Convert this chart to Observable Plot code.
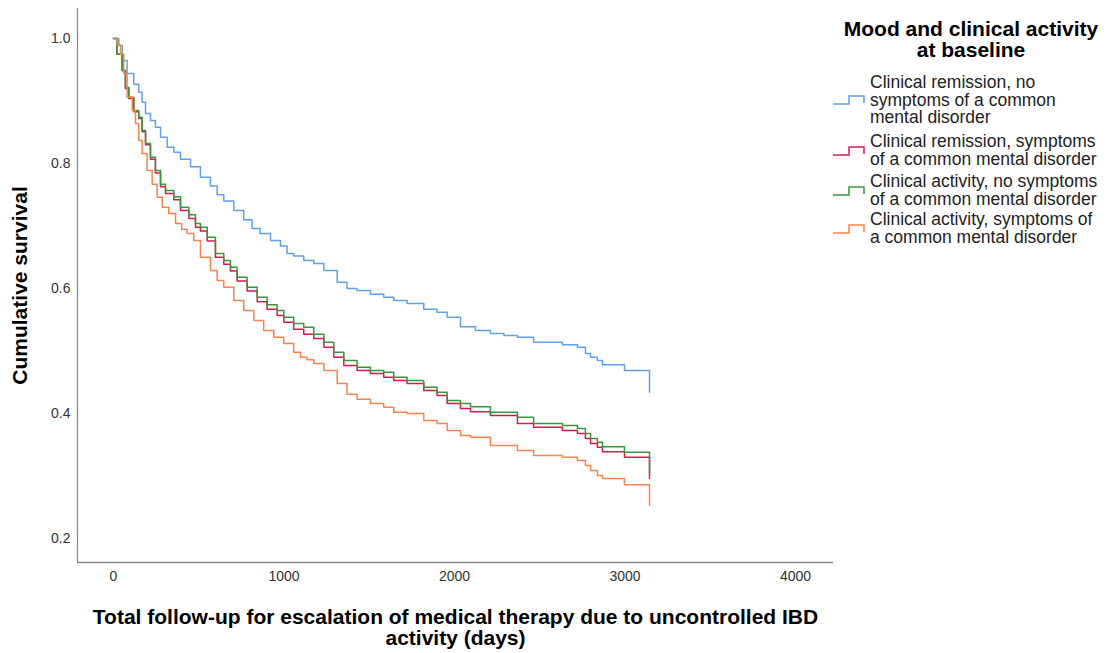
<!DOCTYPE html>
<html>
<head>
<meta charset="utf-8">
<script src="https://cdn.jsdelivr.net/npm/d3@7"></script>
<script src="https://cdn.jsdelivr.net/npm/@observablehq/plot@0.6"></script>
<style>
  html, body { margin: 0; padding: 0; background: #fff; }
  #wrap { position: relative; width: 1112px; height: 653px; font-family: "Liberation Sans", Arial, sans-serif; }
  #legend { position: absolute; left: 826px; top: 0; width: 286px; color: #222; }
  #legend .title { position: absolute; left: 0; top: 18px; width: 290px; text-align: center; font-weight: bold; font-size: 21px; line-height: 21px; color: #000; white-space: pre; }
  #legend .item { position: absolute; left: 6px; display: flex; align-items: center; }
  #legend .item svg { flex: none; width: 34px; height: 14px; margin-right: 4px; }
  #legend .item span { font-size: 17.5px; line-height: 17.5px; white-space: pre; }
</style>
</head>
<body>
<div id="wrap"><div id="chart"></div><div id="legend"></div></div>
<script>
// ---- data ----
const groups = [
  "Clinical remission, no symptoms of a common mental disorder",
  "Clinical remission, symptoms of a common mental disorder",
  "Clinical activity, no symptoms of a common mental disorder",
  "Clinical activity, symptoms of a common mental disorder"
];
const legendLabels = [
  "Clinical remission, no\nsymptoms of a common\nmental disorder",
  "Clinical remission, symptoms\nof a common mental disorder",
  "Clinical activity, no symptoms\nof a common mental disorder",
  "Clinical activity, symptoms of\na common mental disorder"
];
const colors = ["#62a0ec", "#d81b4a", "#3a963a", "#f7844f"];

const remNoDays = [0, 31, 51, 80, 119, 148, 168, 188, 217, 246, 276, 315, 354, 393, 452, 510, 569, 608, 647, 706, 764, 813, 860, 921, 979, 1018, 1057, 1116, 1175, 1234, 1312, 1370, 1429, 1507, 1585, 1644, 1722, 1820, 1898, 1957, 2035, 2123, 2211, 2290, 2369, 2464, 2633, 2721, 2768, 2798, 2838, 2868, 2997, 3144];
const remNoSurv = [1.0, 0.989, 0.965, 0.944, 0.927, 0.914, 0.898, 0.880, 0.869, 0.858, 0.842, 0.826, 0.818, 0.807, 0.795, 0.778, 0.764, 0.750, 0.740, 0.725, 0.710, 0.696, 0.688, 0.677, 0.668, 0.656, 0.652, 0.645, 0.640, 0.629, 0.610, 0.600, 0.597, 0.591, 0.586, 0.581, 0.576, 0.567, 0.562, 0.554, 0.539, 0.533, 0.528, 0.525, 0.522, 0.514, 0.510, 0.506, 0.496, 0.490, 0.485, 0.478, 0.469, 0.434];

const remSymDays = [0, 20, 51, 70, 90, 119, 148, 168, 188, 217, 246, 276, 305, 354, 393, 442, 481, 510, 550, 598, 647, 686, 725, 784, 843, 901, 960, 999, 1057, 1116, 1175, 1234, 1292, 1351, 1429, 1507, 1585, 1644, 1722, 1820, 1898, 1957, 2035, 2094, 2211, 2369, 2464, 2633, 2721, 2768, 2798, 2838, 2868, 2997, 3144];
const remSymSurv = [1.0, 0.975, 0.949, 0.920, 0.904, 0.883, 0.872, 0.851, 0.830, 0.807, 0.785, 0.763, 0.752, 0.742, 0.725, 0.712, 0.698, 0.692, 0.676, 0.650, 0.639, 0.628, 0.612, 0.596, 0.579, 0.567, 0.557, 0.546, 0.535, 0.527, 0.520, 0.506, 0.490, 0.477, 0.469, 0.464, 0.458, 0.453, 0.448, 0.437, 0.429, 0.416, 0.408, 0.403, 0.397, 0.384, 0.378, 0.373, 0.368, 0.360, 0.352, 0.346, 0.339, 0.330, 0.296];

const actNoDays = [0, 20, 51, 70, 90, 119, 148, 168, 188, 217, 246, 276, 305, 354, 393, 442, 481, 510, 550, 598, 647, 686, 725, 784, 843, 901, 960, 999, 1057, 1116, 1175, 1234, 1292, 1351, 1429, 1507, 1585, 1644, 1722, 1820, 1898, 1957, 2035, 2094, 2211, 2369, 2464, 2633, 2721, 2768, 2798, 2838, 2868, 2997, 3144];
const actNoSurv = [1.0, 0.975, 0.949, 0.922, 0.906, 0.885, 0.874, 0.853, 0.832, 0.810, 0.789, 0.767, 0.757, 0.747, 0.730, 0.718, 0.704, 0.698, 0.682, 0.656, 0.645, 0.634, 0.618, 0.602, 0.586, 0.574, 0.565, 0.554, 0.544, 0.538, 0.527, 0.514, 0.498, 0.485, 0.474, 0.469, 0.466, 0.458, 0.453, 0.442, 0.434, 0.421, 0.416, 0.411, 0.402, 0.394, 0.384, 0.381, 0.376, 0.368, 0.360, 0.354, 0.347, 0.338, 0.304];

const actSymDays = [0, 21, 41, 60, 80, 110, 129, 148, 168, 197, 227, 256, 286, 324, 364, 400, 432, 471, 510, 569, 608, 647, 706, 764, 823, 881, 940, 999, 1057, 1097, 1135, 1175, 1234, 1312, 1370, 1429, 1507, 1585, 1644, 1722, 1820, 1898, 1957, 2035, 2094, 2211, 2369, 2464, 2633, 2721, 2768, 2798, 2838, 2868, 2997, 3144];
const actSymSurv = [1.0, 0.990, 0.975, 0.944, 0.906, 0.885, 0.864, 0.837, 0.816, 0.789, 0.767, 0.746, 0.730, 0.720, 0.704, 0.695, 0.688, 0.677, 0.650, 0.629, 0.613, 0.602, 0.581, 0.565, 0.549, 0.533, 0.522, 0.512, 0.498, 0.490, 0.486, 0.480, 0.469, 0.448, 0.431, 0.423, 0.416, 0.410, 0.402, 0.400, 0.389, 0.384, 0.373, 0.365, 0.362, 0.349, 0.341, 0.333, 0.330, 0.325, 0.317, 0.309, 0.301, 0.296, 0.286, 0.253];

const xTicks = [0, 1000, 2000, 3000, 4000];
const yTicks = [0.2, 0.4, 0.6, 0.8, 1.0];
const xTitle = "Total follow-up for escalation of medical therapy due to uncontrolled IBD\nactivity (days)";
const yTitle = "Cumulative survival";
const legendTitle = "Mood and clinical activity\nat baseline";

// ---- build table ----
const seriesDays = [remNoDays, remSymDays, actNoDays, actSymDays];
const seriesSurv = [remNoSurv, remSymSurv, actNoSurv, actSymSurv];
const rows = [];
groups.forEach((g, i) => {
  seriesDays[i].forEach((d, j) => rows.push({group: g, day: d, surv: seriesSurv[i][j]}));
});

const xDomain = [-211, 4223];
const yDomain = [0.1616, 1.048];

const chart = Plot.plot({
  width: 1112,
  height: 653,
  marginLeft: 77,
  marginRight: 279,
  marginTop: 8,
  marginBottom: 91,
  style: {fontFamily: "'Liberation Sans', Arial, sans-serif", fontSize: "14px", color: "#333", background: "#fff"},
  x: {domain: xDomain, label: null},
  y: {domain: yDomain, label: null},
  color: {domain: groups, range: colors},
  marks: [
    Plot.axisX({ticks: xTicks, tickSize: 0, tickPadding: 9, tickFormat: d => String(d), fontSize: 14, label: null}),
    Plot.axisY({ticks: yTicks, tickSize: 0, tickPadding: 7, tickFormat: d3.format(".1f"), fontSize: 14, label: null}),
    Plot.ruleX([xDomain[0]], {stroke: "#8a8a8a", strokeWidth: 1.3}),
    Plot.ruleY([yDomain[0]], {stroke: "#8a8a8a", strokeWidth: 1.3}),
    Plot.line(rows, {x: "day", y: "surv", z: "group", stroke: "group", curve: "step-after", strokeWidth: 1.5}),
    Plot.text([xTitle], {frameAnchor: "bottom", dy: 65.5, lineAnchor: "middle", lineHeight: 1.0, fontSize: 21, fontWeight: "bold", fill: "#000"}),
    Plot.text([yTitle], {frameAnchor: "left", textAnchor: "middle", dx: -57, rotate: -90, fontSize: 21, fontWeight: "bold", fill: "#000"})
  ]
});
document.getElementById("chart").appendChild(chart);

// ---- legend ----
const legend = document.getElementById("legend");
const t = document.createElement("div");
t.className = "title";
t.textContent = legendTitle;
legend.appendChild(t);
const itemTops = [74, 133, 173, 211];
legendLabels.forEach((lab, i) => {
  const it = document.createElement("div");
  it.className = "item";
  it.style.top = itemTops[i] + "px";
  it.innerHTML = `<svg viewBox="0 0 34 14"><path d="M1,11 H17 V3 H32 V10" fill="none" stroke="${colors[i]}" stroke-width="1.5"/></svg><span>${lab}</span>`;
  legend.appendChild(it);
});
</script>
</body>
</html>
